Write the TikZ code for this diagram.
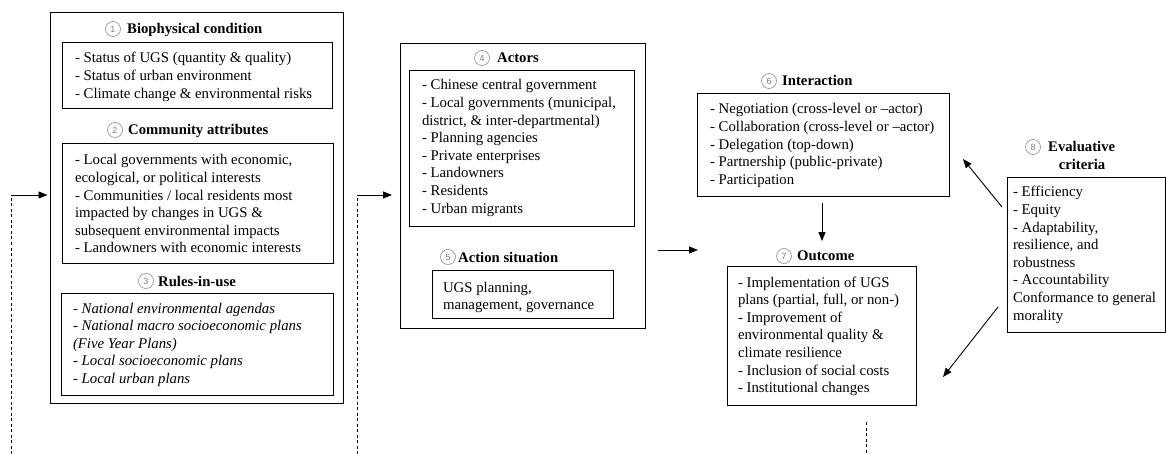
\documentclass[tikz,border=0pt]{standalone}
\usepackage{fontspec}
\setmainfont{Liberation Serif}
\setsansfont{Liberation Sans}
\usetikzlibrary{arrows.meta}

% multi-line text block whose reference point is the first baseline
\newcommand{\txtblock}[1]{\parbox[t]{320pt}{\raggedright\fontsize{14.8}{17.6}\selectfont #1}}

\begin{document}
\begin{tikzpicture}[x=1pt,y=-1pt,
  outerbox/.style={draw,line width=1.4pt,anchor=north west,inner sep=0pt},
  innerbox/.style={draw,line width=1.2pt,anchor=north west,inner sep=0pt},
  body/.style={anchor=base west,inner sep=0pt,outer sep=0pt},
  heading/.style={anchor=base west,inner sep=0pt,font=\fontsize{14.7}{16}\selectfont\bfseries},
  numcirc/.style={circle,draw=black!40,line width=0.7pt,text=black!50,minimum size=15pt,
    inner sep=0pt,font=\sffamily\fontsize{9}{9}\selectfont},
  arr/.style={line width=0.9pt,-{Triangle[length=9pt,width=7pt]}},
  dashline/.style={line width=0.9pt,dash pattern=on 3pt off 2.5pt}]

\useasboundingbox (0,0) rectangle (1166,454);

% ---------- left frame: conditions, attributes, rules ----------
\node[outerbox,minimum width=293pt,minimum height=391pt] (frameA) at (50,12) {};

\node[numcirc] (n1) at (113,29) {1};
\node[heading] (t1) at (127,34) {Biophysical condition};
\node[innerbox,minimum width=270pt,minimum height=66pt] (bioBox) at (62,42) {};
\node[body] (bioTxt) at (75,63) {\txtblock{- Status of UGS (quantity \& quality)\\
- Status of urban environment\\
- Climate change \& environmental risks}};

\node[numcirc] (n2) at (115,130) {2};
\node[heading] (t2) at (128,135) {Community attributes};
\node[innerbox,minimum width=271pt,minimum height=120pt] (comBox) at (62,143) {};
\node[body] (comTxt) at (75,165) {\txtblock{- Local governments with economic,\\
ecological, or political interests\\
- Communities / local residents most\\
impacted by changes in UGS \&\\
subsequent environmental impacts\\
- Landowners with economic interests}};

\node[numcirc] (n3) at (146,281) {3};
\node[heading] (t3) at (158,286) {Rules-in-use};
\node[innerbox,minimum width=272pt,minimum height=102pt] (rulesBox) at (61,293) {};
\node[body] (rulesTxt) at (73,313) {\txtblock{\itshape - National environmental agendas\\
- National macro socioeconomic plans\\
(Five Year Plans)\\
- Local socioeconomic plans\\
- Local urban plans}};

% ---------- middle frame: actors and action situation ----------
\node[outerbox,minimum width=245pt,minimum height=285pt] (frameB) at (400,43) {};

\node[numcirc] (n4) at (482,58) {4};
\node[heading] (t4) at (497,63) {Actors};
\node[innerbox,minimum width=225pt,minimum height=156pt] (actBox) at (409,70) {};
\node[body] (actTxt) at (422,90) {\txtblock{- Chinese central government\\
- Local governments (municipal,\\
district, \& inter-departmental)\\
- Planning agencies\\
- Private enterprises\\
- Landowners\\
- Residents\\
- Urban migrants}};

\node[numcirc] (n5) at (448,257) {5};
\node[heading] (t5) at (458,262) {Action situation};
\node[innerbox,minimum width=181pt,minimum height=48pt] (sitBox) at (432,270) {};
\node[body] (sitTxt) at (443,292) {\txtblock{UGS planning,\\
management, governance}};

% ---------- interaction ----------
\node[numcirc] (n6) at (769,81) {6};
\node[heading] (t6) at (782,86) {Interaction};
\node[innerbox,minimum width=252pt,minimum height=103pt] (interBox) at (697,93) {};
\node[body] (interTxt) at (710,114) {\txtblock{- Negotiation (cross-level or --actor)\\
- Collaboration (cross-level or --actor)\\
- Delegation (top-down)\\
- Partnership (public-private)\\
- Participation}};

% ---------- outcome ----------
\node[numcirc] (n7) at (784,256) {7};
\node[heading] (t7) at (797,261) {Outcome};
\node[innerbox,minimum width=189pt,minimum height=139pt] (outBox) at (727,266) {};
\node[body] (outTxt) at (738,287) {\txtblock{- Implementation of UGS\\
plans (partial, full, or non-)\\
- Improvement of\\
environmental quality \&\\
climate resilience\\
- Inclusion of social costs\\
- Institutional changes}};

% ---------- evaluative criteria ----------
\node[numcirc] (n8) at (1033,147) {8};
\node[heading] (t8) at (1048,152) {Evaluative};
\node[heading,anchor=base] (t8b) at (1082,170) {criteria};
\node[innerbox,minimum width=158pt,minimum height=155pt] (evalBox) at (1007,177) {};
\node[body] (evalTxt) at (1013,197) {\txtblock{- Efficiency\\
- Equity\\
- Adaptability,\\
resilience, and\\
robustness\\
- Accountability\\
Conformance to general\\
morality}};

% ---------- connectors ----------
\coordinate (fbA) at (11,454);
\coordinate (fbAtop) at (11,195);
\draw[dashline] (fbA) -- (fbAtop);
\draw[arr,shorten >=2.5pt] (fbAtop) -- (fbAtop -| frameA.west);

\coordinate (fbB) at (357,454);
\coordinate (fbBtop) at (357,195);
\draw[dashline] (fbB) -- (fbBtop);
\draw[arr,shorten >=8pt] (fbBtop) -- (fbBtop -| frameB.west);

\coordinate (sitOut) at (658,250);
\coordinate (outIn) at (698,250);
\draw[arr] (sitOut) -- (outIn);

\coordinate (iDown) at (822,196);
\draw[arr,shorten <=7pt,shorten >=10pt] (iDown) -- (iDown |- t7.north);

\coordinate (evUp) at (1002,207);
\coordinate (interIn) at (963,159);
\draw[arr] (evUp) -- (interIn);

\coordinate (evDown) at (998,307);
\coordinate (outSide) at (943,377);
\draw[arr] (evDown) -- (outSide);

\coordinate (outFoot) at (866,422);
\coordinate (outFootEnd) at (866,454);
\draw[dashline] (outFoot) -- (outFootEnd);

\end{tikzpicture}
\end{document}
